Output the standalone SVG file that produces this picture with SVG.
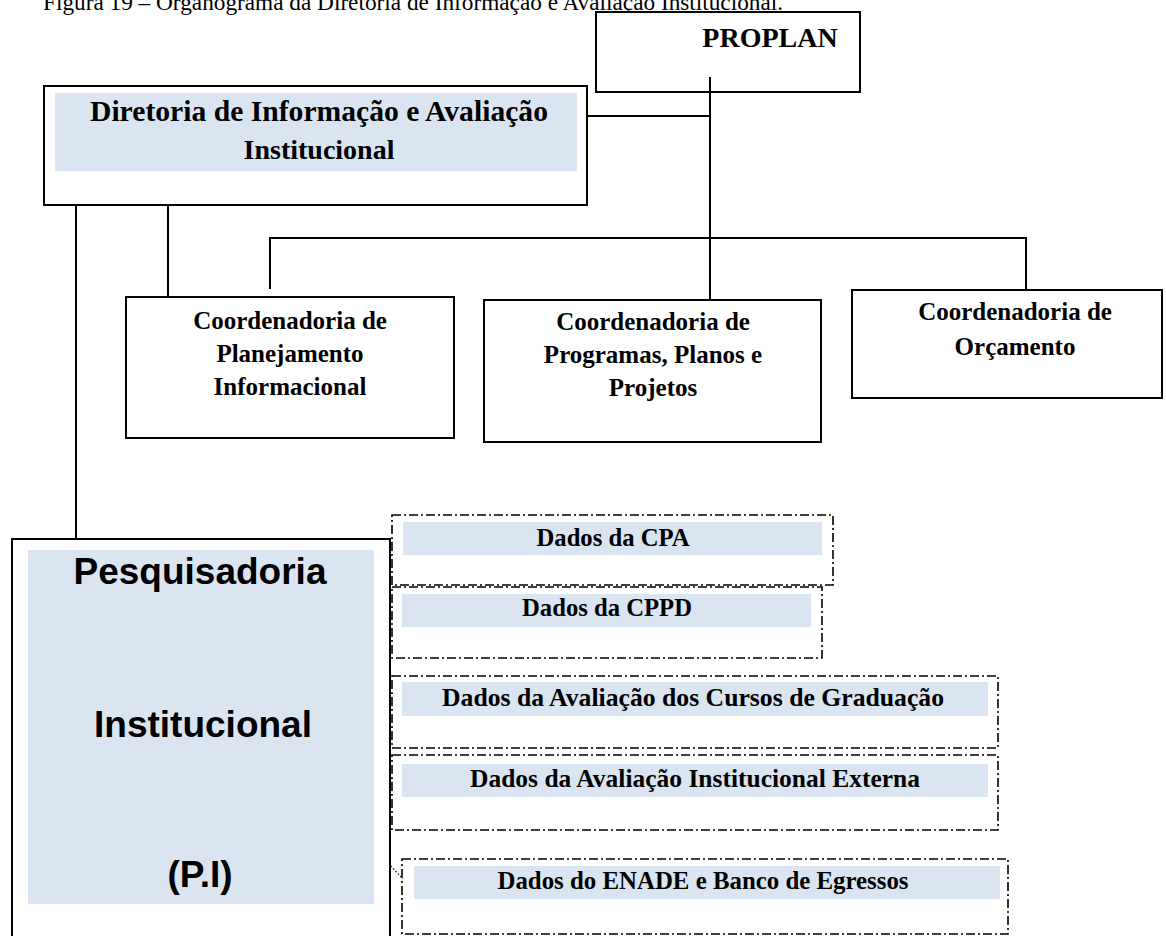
<svg xmlns="http://www.w3.org/2000/svg" width="1166" height="936" viewBox="0 0 1166 936">
<style>
  .box { fill: #ffffff; stroke: #000000; stroke-width: 2; }
  .fill { fill: #DBE5F1; stroke: none; }
  .dash { fill: none; stroke: #000000; stroke-width: 1.6; stroke-dasharray: 9 3 2 3; }
  .ln { fill: none; stroke: #000000; stroke-width: 2; }
  .dot { fill: none; stroke: #000000; stroke-width: 1.2; stroke-dasharray: 1.5 2; }
  .tb { font-family: "Liberation Serif", "Times New Roman", serif; font-weight: bold; fill: #000000; text-anchor: middle; }
  .ta { font-family: "Liberation Sans", Arial, sans-serif; font-weight: bold; fill: #000000; text-anchor: middle; font-size: 37px; }
  .cap { font-family: "Liberation Serif", "Times New Roman", serif; font-size: 23px; fill: #000000; }
</style>
<rect x="0" y="0" width="1166" height="936" fill="#ffffff"/>
<text class="cap" x="43" y="10" textLength="740" lengthAdjust="spacingAndGlyphs">Figura 19 – Organograma da Diretoria de Informação e Avaliação Institucional.</text>

<g id="connectors">
  <line class="ln" x1="710" y1="77" x2="710" y2="300"/>
  <line class="ln" x1="587" y1="116" x2="710" y2="116"/>
  <polyline class="ln" points="270,289 270,238 1026,238 1026,290"/>
  <line class="ln" x1="168" y1="205" x2="168" y2="297"/>
  <line class="ln" x1="76" y1="205" x2="76" y2="545"/>
  <line class="dot" x1="374" y1="562" x2="391" y2="556"/>
  <line class="dot" x1="374" y1="625" x2="391" y2="618"/>
  <line class="dot" x1="374" y1="709" x2="391" y2="709"/>
  <line class="dot" x1="374" y1="772" x2="391" y2="780"/>
  <line class="dot" x1="374" y1="848" x2="403" y2="879"/>
</g>

<g id="proplan">
  <rect class="box" x="596" y="12" width="264" height="80"/>
  <text class="tb" x="770" y="47" font-size="28">PROPLAN</text>
</g>
<line class="ln" x1="710" y1="77" x2="710" y2="93"/>

<g id="diretoria">
  <rect class="box" x="44" y="86" width="543" height="119"/>
  <rect class="fill" x="55" y="93" width="522" height="78"/>
  <text class="tb" x="319" y="121" font-size="28.5" textLength="458" lengthAdjust="spacingAndGlyphs">Diretoria de Informação e Avaliação</text>
  <text class="tb" x="319" y="159" font-size="28">Institucional</text>
</g>

<g id="coord-planejamento">
  <rect class="box" x="126" y="297" width="328" height="141"/>
  <text class="tb" x="290" y="329" font-size="25">Coordenadoria de</text>
  <text class="tb" x="290" y="362" font-size="25">Planejamento</text>
  <text class="tb" x="290" y="395" font-size="25">Informacional</text>
</g>

<g id="coord-programas">
  <rect class="box" x="484" y="300" width="337" height="142"/>
  <text class="tb" x="653" y="330" font-size="25">Coordenadoria de</text>
  <text class="tb" x="653" y="363" font-size="25">Programas, Planos e</text>
  <text class="tb" x="653" y="396" font-size="25">Projetos</text>
</g>

<g id="coord-orcamento">
  <rect class="box" x="852" y="290" width="310" height="108"/>
  <text class="tb" x="1015" y="320" font-size="25">Coordenadoria de</text>
  <text class="tb" x="1015" y="355" font-size="25">Orçamento</text>
</g>

<g id="pesquisadoria">
  <rect class="box" x="12" y="539" width="378" height="410"/>
  <rect class="fill" x="28" y="550" width="346" height="354"/>
  <text class="ta" x="200" y="584">Pesquisadoria</text>
  <text class="ta" x="203" y="737">Institucional</text>
  <text class="ta" x="200" y="887">(P.I)</text>
</g>

<g id="dados-cpa">
  <rect class="dash" x="392" y="515" width="441" height="70"/>
  <rect class="fill" x="403" y="522" width="419" height="33"/>
  <text class="tb" x="613" y="546" font-size="25" textLength="153" lengthAdjust="spacingAndGlyphs">Dados da CPA</text>
</g>

<g id="dados-cppd">
  <rect class="dash" x="392" y="587" width="430" height="71"/>
  <rect class="fill" x="402" y="594" width="409" height="33"/>
  <text class="tb" x="607" y="616" font-size="25" textLength="170" lengthAdjust="spacingAndGlyphs">Dados da CPPD</text>
</g>

<g id="dados-graduacao">
  <rect class="dash" x="392" y="676" width="606" height="72"/>
  <rect class="fill" x="402" y="682" width="586" height="34"/>
  <text class="tb" x="693" y="706" font-size="25" textLength="502" lengthAdjust="spacingAndGlyphs">Dados da Avaliação dos Cursos de Graduação</text>
</g>

<g id="dados-externa">
  <rect class="dash" x="392" y="755" width="606" height="75"/>
  <rect class="fill" x="402" y="764" width="586" height="33"/>
  <text class="tb" x="695" y="787" font-size="25" textLength="450" lengthAdjust="spacingAndGlyphs">Dados da Avaliação Institucional Externa</text>
</g>

<g id="dados-enade">
  <rect class="dash" x="402" y="859" width="606" height="75"/>
  <rect class="fill" x="414" y="866" width="586" height="33"/>
  <text class="tb" x="703" y="889" font-size="25" textLength="411" lengthAdjust="spacingAndGlyphs">Dados do ENADE e Banco de Egressos</text>
</g>
</svg>
